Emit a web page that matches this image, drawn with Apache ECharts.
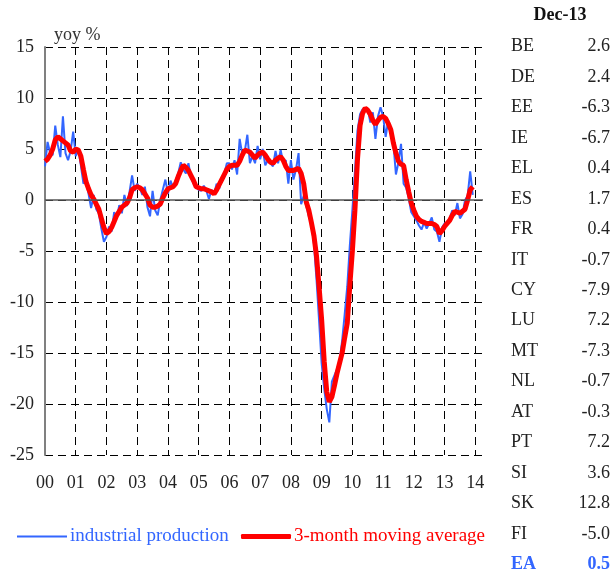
<!DOCTYPE html>
<html>
<head>
<meta charset="utf-8">
<script src="https://cdn.jsdelivr.net/npm/echarts@6/dist/echarts.min.js"></script>
<style>
    html, body { margin: 0; padding: 0; background: #fff; }
    #chart { width: 614px; height: 571px; }
</style>
</head>
<body>
<div id="chart"></div>
<script>
// year labels on the x axis (one tick per January)
var yearLabels = ['00', '01', '02', '03', '04', '05', '06', '07', '08', '09', '10', '11', '12', '13', '14'];

// industrial production, yoy %, monthly Jan-2000 .. Dec-2013
var ipYoY = [
    3.3, 5.7, 4.6, 4.4, 7.3, 5.4, 4.2, 8.2, 4.6, 3.9, 4.8, 6.7,          // 2000
    4.3, 5.0, 3.4, 1.6, 1.9, 0.6, -0.8, 0.5, -0.9, -1.3, -2.8, -4.1,    // 2001
    -3.6, -2.6, -3.1, -1.2, -1.8, -0.5, -1.3, 0.5, -0.6, 0.8, 2.4, 0.9, // 2002
    1.6, 1.2, 0.5, 1.3, -0.7, -1.6, 0.9, -1.0, -1.5, 0.0, 1.0, 2.0,     // 2003
    0.6, 1.9, 1.2, 1.9, 2.6, 3.7, 3.0, 2.6, 3.6, 2.2, 1.6, 1.3,         // 2004
    1.0, 0.9, 1.4, 0.9, 0.1, 1.0, 0.6, 1.6, 1.1, 2.1, 2.6, 3.6,         // 2005
    3.6, 3.0, 3.9, 2.5, 6.0, 4.5, 4.8, 6.4, 3.6, 4.3, 3.6, 5.3,         // 2006
    4.0, 5.0, 3.4, 3.9, 3.6, 3.3, 4.8, 3.6, 4.9, 3.6, 3.9, 1.6,         // 2007
    3.9, 2.0, 3.0, 4.6, -0.4, 0.4, -0.6, -1.6, -2.3, -4.3, -7.8, -11.8, // 2008
    -16.0, -18.5, -20.5, -21.8, -17.8, -17.2, -16.6, -15.8, -13.8, -11.2, -8.5, -4.5, // 2009
    -1.0, 2.8, 6.8, 8.4, 8.9, 8.8, 9.0, 7.6, 8.6, 6.0, 8.2, 9.1,        // 2010
    8.2, 6.2, 7.8, 6.6, 5.6, 2.5, 3.7, 5.5, 1.6, 1.2, 0.2, -1.2,        // 2011
    -1.6, -2.0, -2.5, -2.9, -2.2, -2.8, -2.3, -1.7, -2.9, -3.1, -4.1, -2.7, // 2012
    -2.3, -2.2, -1.8, -1.0, -1.5, -0.3, -1.8, -1.4, 0.0, 0.4, 2.8, 0.5  // 2013
];

// 3-month moving average, yoy %
var ma3 = [
    3.8, 4.0, 4.4, 5.0, 5.9, 6.2, 6.0, 5.8, 5.6, 5.4, 4.8, 4.7,
    5.0, 4.9, 4.3, 3.0, 1.8, 1.1, 0.5, 0.1, -0.4, -0.9, -1.8, -2.7,
    -3.3, -3.1, -2.7, -2.1, -1.5, -1.1, -0.7, -0.5, -0.3, 0.2, 1.0, 1.2,
    1.3, 1.2, 1.0, 0.6, 0.2, -0.5, -0.7, -0.7, -0.6, -0.4, 0.2, 0.7,
    1.1, 1.2, 1.3, 1.6, 2.3, 2.9, 3.4, 3.2, 2.9, 2.4, 1.9, 1.3,
    1.2, 1.1, 1.1, 1.0, 0.9, 0.8, 0.6, 1.0, 1.5, 2.0, 2.5, 3.0,
    3.3, 3.4, 3.4, 3.4, 3.8, 4.4, 4.9, 4.8, 4.7, 4.4, 4.1, 4.4,
    4.6, 4.7, 4.4, 4.0, 3.7, 3.6, 3.9, 4.1, 4.25, 3.9, 3.3, 2.9,
    2.9, 2.9, 3.0, 3.1, 2.6, 1.6, -0.2, -1.0, -2.2, -3.5, -5.5, -8.5,
    -11.7, -15.8, -18.8, -19.8, -19.3, -18.2, -17.0, -16.0, -15.0, -13.5, -12.1, -8.4,
    -5.0, -1.0, 4.0, 7.3, 8.5, 9.0, 8.8, 8.4, 7.8, 7.4, 7.8, 8.1,
    8.2, 8.0, 7.5, 6.9, 5.6, 4.6, 3.8, 3.5, 3.4, 2.0, 0.8, -0.3,
    -1.0, -1.6, -1.9, -2.1, -2.2, -2.3, -2.3, -2.3, -2.4, -2.6, -3.3, -3.0,
    -2.6, -2.3, -2.0, -1.5, -1.1, -1.2, -1.3, -1.1, -0.9, 0.0, 1.0, 1.3
];

// latest reading by country (Dec-13)
var countries = ['BE', 'DE', 'EE', 'IE', 'EL', 'ES', 'FR', 'IT', 'CY', 'LU', 'MT', 'NL', 'AT', 'PT', 'SI', 'SK', 'FI', 'EA'];
var lastValues = ['2.6', '2.4', '-6.3', '-6.7', '0.4', '1.7', '0.4', '-0.7', '-7.9', '7.2', '-7.3', '-0.7', '-0.3', '7.2', '3.6', '12.8', '-5.0', '0.5'];

var serif = '"Liberation Serif", "DejaVu Serif", serif';
var blue = '#3366ff';
var red = '#ff0000';

// monthly categories, running a little past Jan-2014 like the original
var months = [];
for (var y = 0; y < yearLabels.length; y++) {
    for (var m = 1; m <= 12; m++) {
        if (months.length < 172) months.push(yearLabels[y] + '-' + m);
    }
}
function isJanuary(index) { return index % 12 === 0; }

// side table
var tableGraphic = [{
    type: 'text', x: 560, y: 15,
    style: { text: 'Dec-13', font: 'bold 18px ' + serif, fill: '#111', align: 'center', verticalAlign: 'middle' }
}];
countries.forEach(function (c, i) {
    var isEA = c === 'EA';
    var yy = 46.5 + i * 30.47;
    tableGraphic.push({
        type: 'text', x: 511, y: yy,
        style: { text: c, font: (isEA ? 'bold ' : '') + '18px ' + serif, fill: isEA ? blue : '#222', verticalAlign: 'middle' }
    });
    tableGraphic.push({
        type: 'text', x: 610, y: yy,
        style: { text: lastValues[i], font: (isEA ? 'bold ' : '') + '18px ' + serif, fill: isEA ? blue : '#222', align: 'right', verticalAlign: 'middle' }
    });
});

var chart = echarts.init(document.getElementById('chart'));
chart.setOption({
    backgroundColor: '#fff',
    animation: false,
    title: {
        text: 'yoy %', left: 49, top: 21,
        textStyle: { fontFamily: serif, fontSize: 18, fontWeight: 'normal', color: '#333' }
    },
    grid: { left: 45, right: 131, top: 47, bottom: 116 },
    legend: [
        {
            left: 12, top: 522,
            icon: 'rect', itemWidth: 50, itemHeight: 2,
            textStyle: { fontFamily: serif, fontSize: 19, color: blue, padding: [0, 0, 0, -2] },
            data: ['industrial production']
        },
        {
            left: 236, top: 522,
            icon: 'roundRect', itemWidth: 50, itemHeight: 5,
            textStyle: { fontFamily: serif, fontSize: 19, color: red, padding: [0, 0, 0, -2] },
            data: ['3-month moving average']
        }
    ],
    xAxis: {
        type: 'category',
        data: months,
        boundaryGap: false,
        axisLine: { show: false },
        axisTick: { show: false },
        axisLabel: {
            interval: isJanuary,
            formatter: function (v) { return v.slice(0, 2); },
            fontFamily: serif, fontSize: 18, color: '#222', margin: 19
        },
        splitLine: {
            show: true,
            interval: isJanuary,
            lineStyle: { color: '#000', type: [8, 5], width: 1 }
        }
    },
    yAxis: {
        type: 'value',
        min: -25, max: 15, interval: 5,
        axisLine: { show: true, lineStyle: { color: '#808080', width: 2 } },
        axisTick: { show: false },
        axisLabel: { fontFamily: serif, fontSize: 18, color: '#222', margin: 11 },
        splitLine: { lineStyle: { color: '#000', type: [8, 5], width: 1 } }
    },
    series: [
        {
            name: 'industrial production',
            type: 'line',
            data: ipYoY,
            symbol: 'none',
            color: blue,
            lineStyle: { color: blue, width: 2 },
            markLine: {
                silent: true,
                symbol: 'none',
                label: { show: false },
                lineStyle: { color: '#555', type: 'solid', width: 1.5 },
                data: [{ yAxis: 0 }]
            },
            z: 3
        },
        {
            name: '3-month moving average',
            type: 'line',
            data: ma3,
            symbol: 'none',
            color: red,
            lineStyle: { color: red, width: 5 },
            z: 4
        }
    ],
    graphic: tableGraphic
});
</script>
</body>
</html>
